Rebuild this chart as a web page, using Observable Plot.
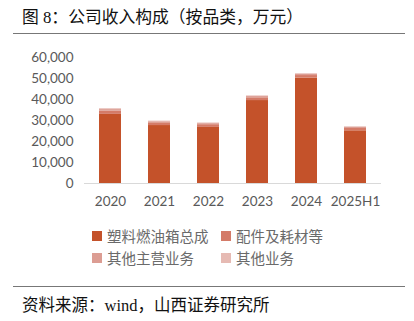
<!DOCTYPE html>
<html><head><meta charset="utf-8">
<script src="https://cdn.jsdelivr.net/npm/d3@7"></script>
<script src="https://cdn.jsdelivr.net/npm/@observablehq/plot@0.6"></script>
<style>
body{margin:0;width:414px;height:321px;background:#fff;position:relative;overflow:hidden;font-family:"Liberation Serif","Noto Sans CJK SC",serif;}
#title{position:absolute;left:22px;top:4px;font-size:16.8px;color:#111;white-space:nowrap;}
.rule{position:absolute;left:13px;width:392px;height:1px;background:#777;}
#chart{position:absolute;left:0;top:40px;}
#legend{position:absolute;left:92px;top:225px;font-family:"Noto Sans CJK SC",sans-serif;font-size:14.5px;color:#6a6a6a;}
.li{position:absolute;white-space:nowrap;display:flex;align-items:center;}
.sw{width:10px;height:10px;margin-right:5px;display:inline-block;}
#source{position:absolute;left:22px;top:292px;font-size:16.5px;color:#111;white-space:nowrap;}
</style></head>
<body>
<div id="title">图 8：公司收入构成（按品类，万元）</div>
<div class="rule" style="top:33px"></div>
<div id="chart"></div>
<div id="legend"></div>
<div class="rule" style="top:286px"></div>
<div id="source">资料来源：wind，山西证券研究所</div>
<script>
const years = ["2020","2021","2022","2023","2024","2025H1"];
const seriesNames = ["塑料燃油箱总成","配件及耗材等","其他主营业务","其他业务"];
const fuelTank = [32900, 27600, 26700, 39500, 50200, 25100];
const parts = [1500, 1300, 1300, 1300, 1200, 1100];
const otherMain = [800, 500, 500, 600, 600, 500];
const otherBiz = [400, 300, 300, 300, 300, 300];
const yTicks = [0, 10000, 20000, 30000, 40000, 50000, 60000];
const colors = ["#C4522A", "#D47B68", "#DC9D93", "#E6BAB3"];

const seriesValues = [fuelTank, parts, otherMain, otherBiz];
const data = [];
seriesNames.forEach((s, si) => years.forEach((y, i) => data.push({year: y, series: s, value: seriesValues[si][i]})));

const chart = Plot.plot({
  width: 414, height: 180,
  marginLeft: 84, marginRight: 33, marginTop: 17, marginBottom: 37,
  style: {fontFamily: "Lato, sans-serif", fontSize: "13.5px", color: "#595959", background: "transparent"},
  x: {domain: years, paddingInner: 0.56, paddingOuter: 0.28, label: null, tickSize: 0, tickPadding: 13},
  y: {domain: [0, 60000], ticks: yTicks, tickFormat: d3.format(","), label: null, tickSize: 0, tickPadding: 11},
  color: {domain: seriesNames, range: colors},
  marks: [
    Plot.barY(data, {x: "year", y: "value", fill: "series", order: seriesNames}),
    Plot.ruleY([0], {stroke: "#D9D9D9", strokeWidth: 1})
  ]
});
document.getElementById("chart").appendChild(chart);

const legendPos = [[0,0],[129,0],[0,22],[129,22]];
const leg = document.getElementById("legend");
seriesNames.forEach((s, i) => {
  const d = document.createElement("div");
  d.className = "li";
  d.style.left = legendPos[i][0] + "px";
  d.style.top = legendPos[i][1] + "px";
  d.innerHTML = `<span class="sw" style="background:${colors[i]}"></span>${s}`;
  leg.appendChild(d);
});
</script>
</body></html>
